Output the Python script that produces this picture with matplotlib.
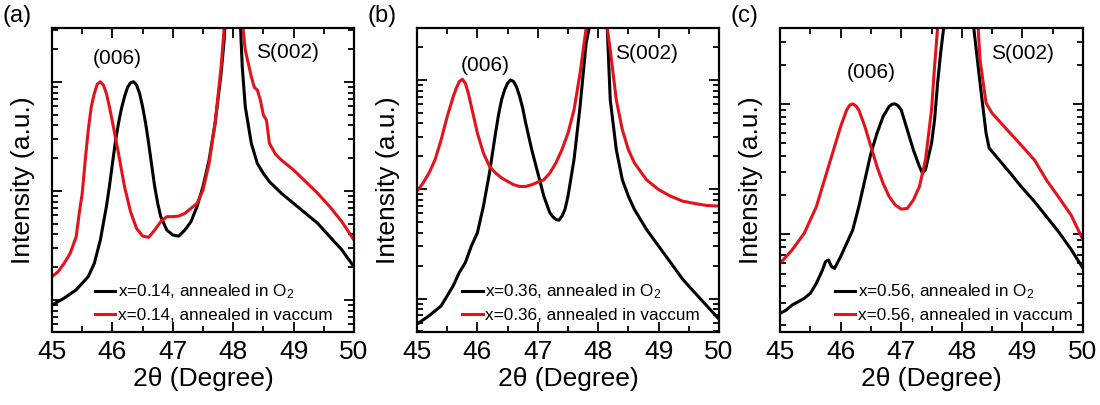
import matplotlib
matplotlib.use("Agg")
import matplotlib.pyplot as plt
from matplotlib.ticker import LogLocator, NullFormatter, MultipleLocator

plt.rcParams['font.family'] = ['Liberation Sans', 'DejaVu Sans']
plt.rcParams['mathtext.fontset'] = 'custom'
plt.rcParams['mathtext.rm'] = 'Liberation Sans'
plt.rcParams['mathtext.default'] = 'regular'

# ---- data (2theta in degrees, intensity in a.u.) ----
# (a) x = 0.14
a_o2_x = [45.0, 45.2, 45.4, 45.6, 45.7, 45.8, 45.9, 45.95, 46.0, 46.05, 46.1, 46.15, 46.2, 46.25,
          46.3, 46.35, 46.4, 46.45, 46.5, 46.55, 46.6, 46.65, 46.7, 46.75, 46.8, 46.9, 47.0, 47.1,
          47.2, 47.3, 47.4, 47.5, 47.6, 47.7, 47.8, 47.85, 48.0, 48.12, 48.15, 48.2, 48.3, 48.4,
          48.5, 48.6, 48.8, 49.0, 49.2, 49.4, 49.6, 49.8, 50.0]
a_o2_y = [9.0, 10.4, 12.4, 16.4, 21.7, 35.5, 71.8, 110, 179, 284, 418, 573, 733, 893,
          986, 1007, 938, 787, 594, 418, 274, 173, 110, 77.1, 58.2, 43.9, 39.5, 38.6,
          43.9, 52.3, 71.8, 110, 192, 418, 1202, 2430, 1e5, 3300, 1384, 594, 274, 179,
          145, 122, 95.2, 77.1, 62.4, 50.5, 38.1, 28.8, 20.2]
a_vac_x = [45.0, 45.1, 45.2, 45.3, 45.4, 45.45, 45.5, 45.55, 45.6, 45.65, 45.7, 45.75, 45.8, 45.85,
           45.9, 45.95, 46.0, 46.1, 46.2, 46.3, 46.4, 46.5, 46.6, 46.7, 46.8, 46.9, 47.0, 47.1,
           47.2, 47.3, 47.4, 47.5, 47.6, 47.7, 47.8, 47.85, 48.0, 48.16, 48.2, 48.3, 48.35, 48.4,
           48.45, 48.5, 48.55, 48.6, 48.7, 48.8, 49.0, 49.2, 49.4, 49.6, 49.8, 50.0]
a_vac_y = [16.4, 18.2, 21.7, 26.8, 38.1, 62.4, 95.2, 192, 363, 594, 787, 959, 1007, 938,
           787, 594, 432, 222, 110, 64.6, 45.4, 38.6, 37.6, 43.9, 52.3, 58.2, 58.2, 59.0,
           62.4, 69.3, 77.1, 102, 179, 418, 1384, 3100, 1e5, 3200, 1967, 1120, 893, 845,
           684, 498, 448, 274, 218, 192, 156, 122, 95.2, 71.8, 52.3, 35.5]

# (b) x = 0.36
b_o2_x = [45.0, 45.2, 45.4, 45.6, 45.7, 45.8, 45.9, 46.0, 46.1, 46.2, 46.3, 46.35, 46.4, 46.45,
          46.5, 46.55, 46.6, 46.65, 46.7, 46.75, 46.8, 46.85, 46.9, 47.0, 47.1, 47.2, 47.25, 47.3,
          47.35, 47.4, 47.45, 47.5, 47.6, 47.7, 47.8, 47.85, 48.0, 48.15, 48.2, 48.3, 48.4, 48.5,
          48.6, 48.8, 49.0, 49.2, 49.4, 49.6, 49.8, 50.0]
b_o2_y = [5.84, 6.95, 8.57, 13.1, 17.3, 21.3, 30.2, 40.0, 70.0, 141, 326, 480, 657, 811,
          933, 1000, 966, 857, 705, 552, 403, 304, 230, 141, 86.3, 60.8, 56.0, 52.8,
          52.1, 56.7, 65.3, 86.3, 187, 571, 2160, 2960, 1e5, 3000, 657, 230, 122, 86.3,
          65.3, 42.9, 30.2, 21.3, 15.0, 11.3, 8.57, 6.48]
b_vac_x = [45.0, 45.1, 45.2, 45.3, 45.4, 45.5, 45.6, 45.65, 45.7, 45.75, 45.8, 45.85, 45.9, 45.95,
           46.0, 46.1, 46.2, 46.3, 46.4, 46.5, 46.6, 46.7, 46.8, 46.9, 47.0, 47.1, 47.2, 47.3,
           47.4, 47.5, 47.6, 47.7, 47.8, 48.0, 48.15, 48.2, 48.3, 48.4, 48.5, 48.6, 48.8, 49.0,
           49.2, 49.4, 49.6, 49.8, 50.0]
b_vac_y = [95.9, 114, 141, 187, 284, 463, 705, 839, 966, 1014, 933, 755, 571, 432,
           326, 214, 162, 141, 127, 118, 110, 106, 106, 110, 116, 122, 141, 174,
           230, 326, 532, 1151, 2960, 1e5, 3000, 1879, 657, 350, 230, 174, 122, 99.3,
           86.3, 77.8, 74.0, 71.0, 70.0]

# (c) x = 0.56
c_o2_x = [45.0, 45.1, 45.2, 45.3, 45.4, 45.5, 45.6, 45.7, 45.75, 45.8, 45.85, 45.9, 46.0, 46.1,
          46.2, 46.3, 46.4, 46.5, 46.6, 46.7, 46.8, 46.85, 46.9, 46.95, 47.0, 47.1, 47.2, 47.3,
          47.35, 47.4, 47.5, 47.55, 47.6, 47.65, 47.7, 48.0, 48.2, 48.3, 48.4, 48.45, 48.6, 48.8,
          49.0, 49.2, 49.4, 49.6, 49.8, 50.0]
c_o2_y = [24.8, 26.2, 28.7, 30.4, 32.3, 35.3, 42.1, 53.2, 61.7, 63.5, 56.5, 54.8, 67.4, 85.3,
          108, 163, 261, 418, 595, 799, 955, 994, 1000, 966, 899, 632, 444, 331,
          294, 312, 499, 753, 1442, 2450, 3810, 1e5, 3700, 1450, 595, 459, 379, 294,
          226, 178, 136, 104, 77.0, 54.8]
c_vac_x = [45.0, 45.2, 45.4, 45.6, 45.8, 45.9, 46.0, 46.1, 46.15, 46.2, 46.25, 46.3, 46.4, 46.5,
           46.6, 46.7, 46.8, 46.9, 47.0, 47.1, 47.2, 47.3, 47.4, 47.5, 47.55, 47.6, 48.0, 48.27,
           48.3, 48.4, 48.5, 48.6, 48.8, 49.0, 49.2, 49.4, 49.6, 49.8, 50.0]
c_vac_y = [59.8, 75.9, 102, 163, 331, 471, 670, 899, 977, 1000, 966, 899, 670, 471,
           331, 246, 195, 168, 156, 158, 183, 232, 372, 899, 1932, 3810, 1e5, 3800,
           2178, 1012, 847, 753, 595, 471, 370, 259, 192, 141, 90.6]

panels = [
    ('(a)', '0.14', a_o2_x, a_o2_y, a_vac_x, a_vac_y, (5.08, 3126)),
    ('(b)', '0.36', b_o2_x, b_o2_y, b_vac_x, b_vac_y, (4.93, 2980)),
    ('(c)', '0.56', c_o2_x, c_o2_y, c_vac_x, c_vac_y, (17.8, 3810)),
]
ax_rects = [[0.0473, 0.180, 0.2745, 0.7506],
            [0.3791, 0.180, 0.2745, 0.7506],
            [0.7091, 0.180, 0.2755, 0.7506]]
peak_pos = [(0.215, 0.9), (0.225, 0.878), (0.30, 0.855)]
sub_pos = [(0.78, 0.92), (0.76, 0.918), (0.80, 0.918)]
leg_x = [0.142, 0.149, 0.18]

red = '#e3121b'

fig = plt.figure(figsize=(11, 4.05), dpi=100)

for i, (tag, xval, ox, oy, vx, vy, ylim) in enumerate(panels):
    ax = fig.add_axes(ax_rects[i])
    ax.plot(ox, oy, color='black', lw=2.2, label='x=%s, annealed in O$_2$' % xval)
    ax.plot(vx, vy, color=red, lw=2.2, label='x=%s, annealed in vaccum' % xval)
    ax.set_yscale('log')
    ax.set_xlim(45, 50)
    ax.set_ylim(*ylim)
    ax.xaxis.set_major_locator(MultipleLocator(1))
    ax.xaxis.set_minor_locator(MultipleLocator(0.5))
    ax.yaxis.set_major_locator(LogLocator(base=10))
    ax.yaxis.set_minor_locator(LogLocator(base=10, subs=range(2, 10)))
    ax.yaxis.set_major_formatter(NullFormatter())
    ax.yaxis.set_minor_formatter(NullFormatter())
    ax.tick_params(which='both', direction='in', top=True, right=True, width=1.3)
    ax.tick_params(which='major', length=7, labelsize=19, pad=6)
    ax.tick_params(which='minor', length=4)
    for s in ax.spines.values():
        s.set_linewidth(1.6)
    ax.set_xlabel('2θ (Degree)', fontsize=19, labelpad=2)
    ax.set_ylabel('Intensity (a.u.)', fontsize=19, labelpad=6)
    ax.text(*peak_pos[i], '(006)', transform=ax.transAxes, fontsize=15, ha='center', va='center')
    ax.text(*sub_pos[i], 'S(002)', transform=ax.transAxes, fontsize=15, ha='center', va='center')
    ax.text(-0.165, 1.04, tag, transform=ax.transAxes, fontsize=17, ha='left', va='center')
    ax.legend(loc='lower left', bbox_to_anchor=(leg_x[i], 0.03), frameon=False, fontsize=12.3,
              handlelength=1.2, handletextpad=0.15, labelspacing=0.38,
              borderpad=0, borderaxespad=0)

fig.savefig('out.png', dpi=100)
